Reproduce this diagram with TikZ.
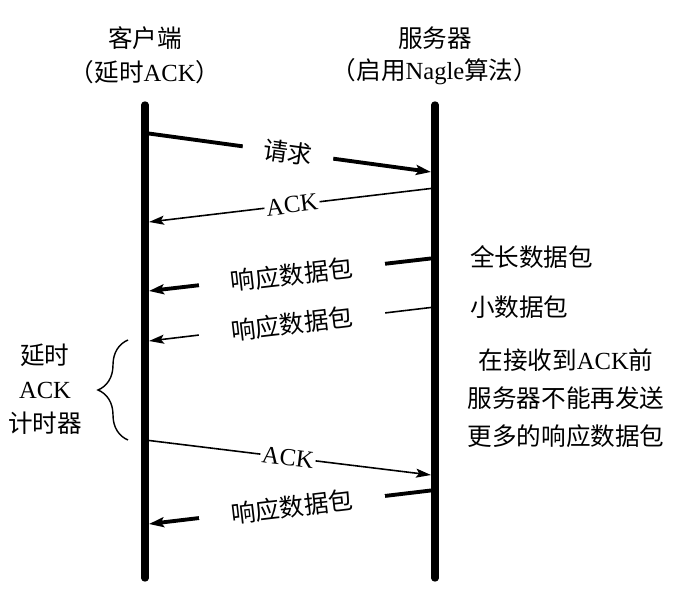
\documentclass[tikz,border=0pt]{standalone}
\usepackage{fontspec}
\setmainfont{Liberation Serif}
\newfontfamily\cjk{Noto Sans CJK SC}
\usepackage{tikz}
\usetikzlibrary{positioning, calc, arrows.meta, decorations.pathreplacing}
\tikzset{
    txt/.style={
        inner sep=1pt,
        align=center,
        font=\fontsize{14}{17}\selectfont
    },
    lifeline/.style={line width=4.2pt, line cap=round, draw=black},
    thinmsg/.style={-{Stealth[length=3mm, width=1.8mm, inset=0.6mm]}, line width=0.9pt},
    thickmsg/.style={-{Stealth[length=3mm, width=2mm, inset=0.6mm]}, line width=2.2pt},
    tag/.style={txt, midway, sloped, fill=white},
    timerbrace/.style={decorate, decoration={brace, amplitude=0.6cm}, line width=0.8pt}
}

\begin{document}
\begin{tikzpicture}

\useasboundingbox (0, 0) rectangle (13.7, -11.84);

% Headers
\node[txt] (cHead) at (2.9, -0.76) {\cjk 客户端};
\node[txt] (cSub) at (2.9, -1.44) {{\cjk （延时}ACK{\cjk ）}};
\node[txt] (sHead) at (8.7, -0.76) {\cjk 服务器};
\node[txt] (sSub) at (8.7, -1.44) {{\cjk （启用}Nagle{\cjk 算法）}};

% Lifelines
\coordinate (cTop) at (2.9, -2.1);
\coordinate (cBot) at (2.9, -11.56);
\coordinate (sTop) at (8.7, -2.1);
\coordinate (sBot) at (8.7, -11.56);

% Message end points
\coordinate (c1) at (2.9, -2.66);   \coordinate (s1) at (8.62, -3.44);
\coordinate (s2) at (8.7, -3.76);   \coordinate (c2) at (2.98, -4.44);
\coordinate (s3) at (8.7, -5.16);   \coordinate (c3) at (2.98, -5.82);
\coordinate (s4) at (8.7, -6.14);   \coordinate (c4) at (2.98, -6.82);
\coordinate (c5) at (2.9, -8.8);    \coordinate (s5) at (8.62, -9.5);
\coordinate (s6) at (8.7, -9.8);    \coordinate (c6) at (2.98, -10.48);

% Messages
\draw[thickmsg] (c1) -- (s1) node[tag, inner xsep=0.42cm] (m1) {\cjk 请求};
\draw[thinmsg] (s2) -- (c2) node[tag, inner xsep=1pt] (m2) {ACK};
\draw[thickmsg] (s3) -- (c3) node[tag, inner xsep=0.64cm] (m3) {\cjk 响应数据包};
\draw[thinmsg] (s4) -- (c4) node[tag, inner xsep=0.64cm] (m4) {\cjk 响应数据包};
\draw[thinmsg] (c5) -- (s5) node[tag, inner xsep=1pt] (m5) {ACK};
\draw[thickmsg] (s6) -- (c6) node[tag, inner xsep=0.64cm] (m6) {\cjk 响应数据包};

\draw[lifeline] (cTop) -- (cBot);
\draw[lifeline] (sTop) -- (sBot);

% Right side notes
\node[txt, anchor=west] (nFull) at (9.36, -5.14) {\cjk 全长数据包};
\node[txt, anchor=west] (nSmall) at (9.36, -6.14) {\cjk 小数据包};
\node[txt, font=\fontsize{14}{21.5}\selectfont] (nWait) at (11.32, -7.96)
    {{\cjk 在接收到}ACK{\cjk 前}\\{\cjk 服务器不能再发送}\\{\cjk 更多的响应数据包}};

% Delayed ACK timer
\coordinate (bBot) at (2.56, -8.8);
\coordinate (bTop) at (2.56, -6.8);
\draw[timerbrace] (bBot) -- (bTop);
\node[txt, font=\fontsize{14}{19.5}\selectfont] (nTimer) at (0.9, -7.78)
    {{\cjk 延时}\\ACK\\{\cjk 计时器}};

\end{tikzpicture}
\end{document}
